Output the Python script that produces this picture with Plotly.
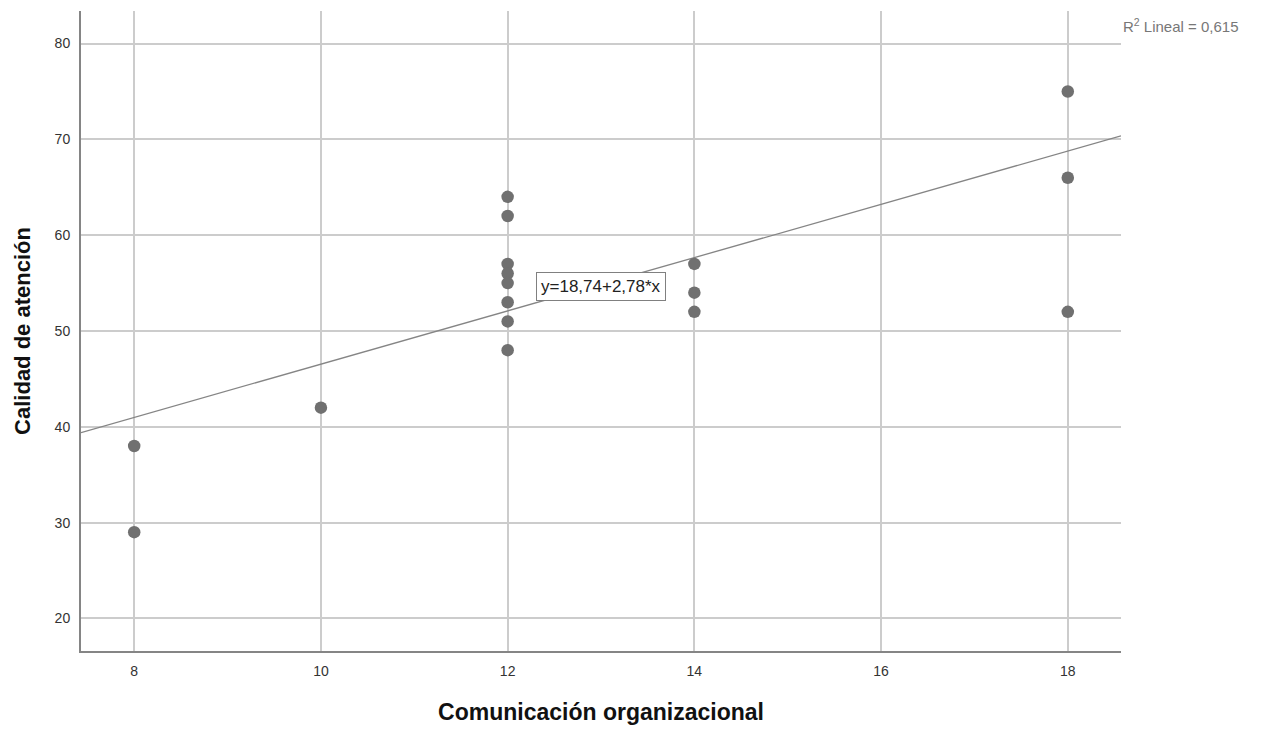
import plotly.graph_objects as go

comunicacion = [8, 8, 10, 12, 12, 12, 12, 12, 12, 12, 12, 14, 14, 14, 18, 18, 18]
calidad = [38, 29, 42, 64, 62, 57, 56, 55, 53, 51, 48, 57, 54, 52, 75, 66, 52]
intercept = 18.74
slope = 2.78
x_range = [7.43, 18.57]
y_range = [16.6, 83.4]
x_ticks = [8, 10, 12, 14, 16, 18]
y_ticks = [20, 30, 40, 50, 60, 70, 80]

font = "Liberation Sans, Arial, sans-serif"

fig = go.Figure()
fig.add_trace(go.Scatter(
    x=x_range, y=[intercept + slope * v for v in x_range],
    mode="lines", line=dict(color="#858585", width=1.3),
    hoverinfo="skip", showlegend=False))
fig.add_trace(go.Scatter(
    x=comunicacion, y=calidad, mode="markers",
    marker=dict(color="#707070", size=12.5, line=dict(width=0)),
    showlegend=False))

fig.add_annotation(
    x=13.0, y=54.6, text="y=18,74+2,78*x", showarrow=False,
    font=dict(family=font, size=17, color="#222222"),
    bgcolor="white", bordercolor="#808080", borderwidth=1, borderpad=4)
fig.add_annotation(
    xref="paper", yref="paper", x=1.0, y=0.978, xanchor="left", yanchor="middle",
    text="R<sup>2</sup> Lineal = 0,615", showarrow=False,
    font=dict(family=font, size=15, color="#777777"))

fig.update_layout(
    width=1265, height=732,
    margin=dict(l=73, r=152, t=3, b=89),
    paper_bgcolor="white", plot_bgcolor="white",
    font=dict(family=font, size=14, color="#333333"),
    xaxis=dict(range=x_range, tickvals=x_ticks, showgrid=True, gridcolor="#cccccc",
               gridwidth=2, zeroline=False, showline=True, linecolor="#858585",
               linewidth=2, ticks="", ticklen=0, ticklabelstandoff=6,
               title=dict(text="Comunicación organizacional", standoff=26,
                          font=dict(family=font, size=23, color="#111111", weight="bold"))),
    yaxis=dict(range=y_range, tickvals=y_ticks, showgrid=True, gridcolor="#cccccc",
               gridwidth=2, zeroline=False, showline=True, linecolor="#858585",
               linewidth=2, ticks="", ticklen=0, ticklabelstandoff=6,
               title=dict(text="Calidad de atención", standoff=18,
                          font=dict(family=font, size=22, color="#111111", weight="bold"))),
)

fig.write_html("out.html")
